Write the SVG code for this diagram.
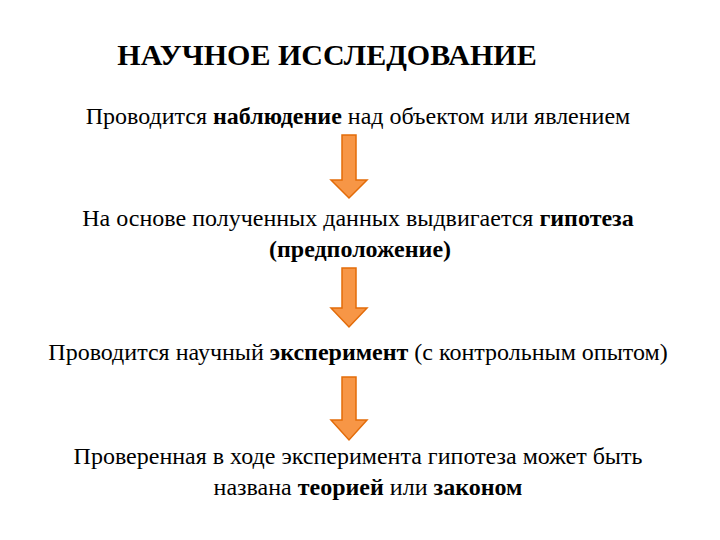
<svg xmlns="http://www.w3.org/2000/svg" width="720" height="540" viewBox="0 0 720 540">
<style>
text{font-family:"Liberation Serif",serif;font-size:24px;fill:#000;text-anchor:middle}
.t{font-size:30px;font-weight:bold}
.b{font-weight:bold}
.a{fill:#F79646;stroke:#E36C09;stroke-width:1.5}
</style>
<rect width="720" height="540" fill="#fff"/>
<g id="title"><text class="t" x="327" y="65">НАУЧНОЕ ИССЛЕДОВАНИЕ</text></g>
<g id="n1"><text x="358" y="124">Проводится <tspan class="b">наблюдение</tspan> над объектом или явлением</text></g>
<g id="n2"><text x="358" y="226">На основе полученных данных выдвигается <tspan class="b">гипотеза</tspan></text><text class="b" x="360" y="257">(предположение)</text></g>
<g id="n3"><text x="358" y="360">Проводится научный <tspan class="b">эксперимент</tspan> (с контрольным опытом)</text></g>
<g id="n4"><text x="358" y="464">Проверенная в ходе эксперимента гипотеза может быть</text><text x="368" y="495">названа <tspan class="b">теорией</tspan> или <tspan class="b">законом</tspan></text></g>
<g id="connectors">
<polygon class="a" points="342,135 356,135 356,180 367,180 349,198 331,180 342,180"/>
<polygon class="a" points="342,268 356,268 356,308 367,308 349,327 331,308 342,308"/>
<polygon class="a" points="342,377 356,377 356,420 367,420 349,440 331,420 342,420"/>
</g>
</svg>
